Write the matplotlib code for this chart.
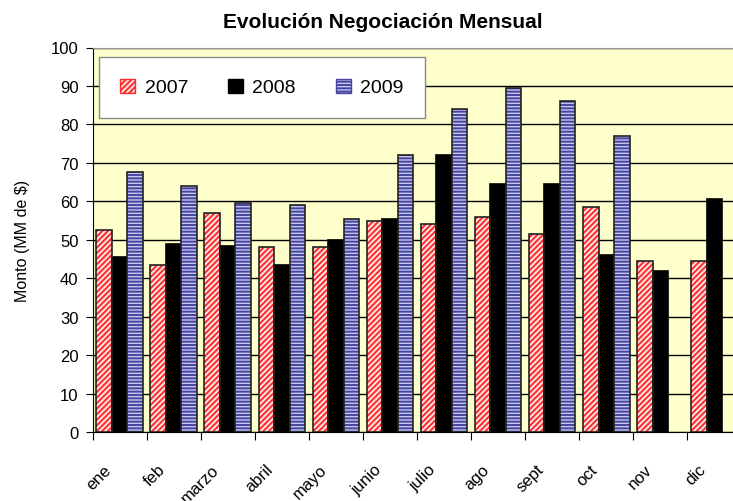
import numpy as np
import matplotlib.pyplot as plt
from matplotlib.patches import Patch
from matplotlib.transforms import ScaledTranslation

plt.rcParams['font.family'] = ['Liberation Sans', 'DejaVu Sans']
plt.rcParams['hatch.linewidth'] = 1.4

meses = ["ene", "feb", "marzo", "abril", "mayo", "junio",
         "julio", "ago", "sept", "oct", "nov", "dic"]
v2007 = [52.5, 43.5, 57.0, 48.0, 48.0, 55.0, 54.0, 56.0, 51.5, 58.5, 44.5, 44.5]
v2008 = [45.5, 49.0, 48.5, 43.5, 50.0, 55.5, 72.0, 64.5, 64.5, 46.0, 42.0, 60.5]
v2009 = [67.5, 64.0, 59.5, 59.0, 55.5, 72.0, 84.0, 89.5, 86.0, 77.0, np.nan, np.nan]

W, H = 733, 502
fig = plt.figure(figsize=(W / 100, H / 100), dpi=100)
ax = fig.add_axes([92.5 / W, 1 - 433 / H, 649 / W, 384.5 / H])
ax.set_facecolor("#FFFFCC")

x = np.arange(len(meses))
ancho = 0.287

# barras con trama + contorno negro aparte
ax.bar(x - ancho, v2007, ancho, color="#FFE4E4", hatch="//////",
       edgecolor="#FF2A2A", linewidth=0, zorder=3)
ax.bar(x - ancho, v2007, ancho, fill=False, edgecolor="#222222",
       linewidth=1.2, zorder=4)
ax.bar(x, v2008, ancho, color="black", edgecolor="black",
       linewidth=1.2, zorder=3)
ax.bar(x + ancho, v2009, ancho, color="#C4C4EE", hatch="-----",
       edgecolor="#4646A0", linewidth=0, zorder=3)
ax.bar(x + ancho, v2009, ancho, fill=False, edgecolor="#222222",
       linewidth=1.2, zorder=4)

ax.set_xlim(-0.5, len(meses) - 0.5)
ax.set_ylim(0, 100)
ax.set_yticks(range(0, 101, 10))
ax.yaxis.grid(True, color="black", linewidth=1.0, zorder=1)
ax.set_axisbelow(True)

ax.set_xticks(np.arange(-0.5, len(meses) - 0.5, 1.0))
ax.set_xticklabels([])
ax.set_xticks(x, minor=True)
ax.set_xticklabels(meses, minor=True, rotation=45, ha="right", va="center",
                   rotation_mode="anchor", fontsize=12)
ax.tick_params(axis="x", which="minor", length=0, pad=25)
ax.tick_params(axis="x", which="major", length=6, direction="out", color="black")
ax.tick_params(axis="y", length=5, direction="out", labelsize=12, pad=5)

# correr etiquetas del eje x un poco a la izquierda
desplazar = ScaledTranslation(-0.11, 0, fig.dpi_scale_trans)
for etiqueta in ax.get_xticklabels(minor=True):
    etiqueta.set_transform(etiqueta.get_transform() + desplazar)

ax.spines["right"].set_visible(False)
ax.spines["top"].set_color("#999999")
ax.spines["left"].set_color("black")
ax.spines["bottom"].set_color("black")

ax.set_ylabel("Monto (MM de $)", fontsize=11.5, labelpad=15)
fig.text(383 / W, 1 - 22 / H, "Evolución Negociación Mensual",
         ha="center", va="center", fontsize=15, fontweight="bold")

handles = [
    Patch(facecolor="#FFE4E4", hatch="//////", edgecolor="#FF2A2A", label="2007"),
    Patch(facecolor="black", edgecolor="black", label="2008"),
    Patch(facecolor="#C4C4EE", hatch="-----", edgecolor="#4646A0", label="2009"),
]
leg = ax.legend(handles=handles, ncol=3, loc="center left",
                bbox_to_anchor=(99 / W, 1 - 117 / H, 326 / W, 57 / H),
                bbox_transform=fig.transFigure, mode="expand",
                fontsize=14, handlelength=0.75, handleheight=0.75,
                handletextpad=0.5, borderpad=1.1, borderaxespad=0,
                fancybox=False, framealpha=1, edgecolor="#888888")
leg.get_frame().set_linewidth(1.0)

fig.savefig("out.png", dpi=100)
